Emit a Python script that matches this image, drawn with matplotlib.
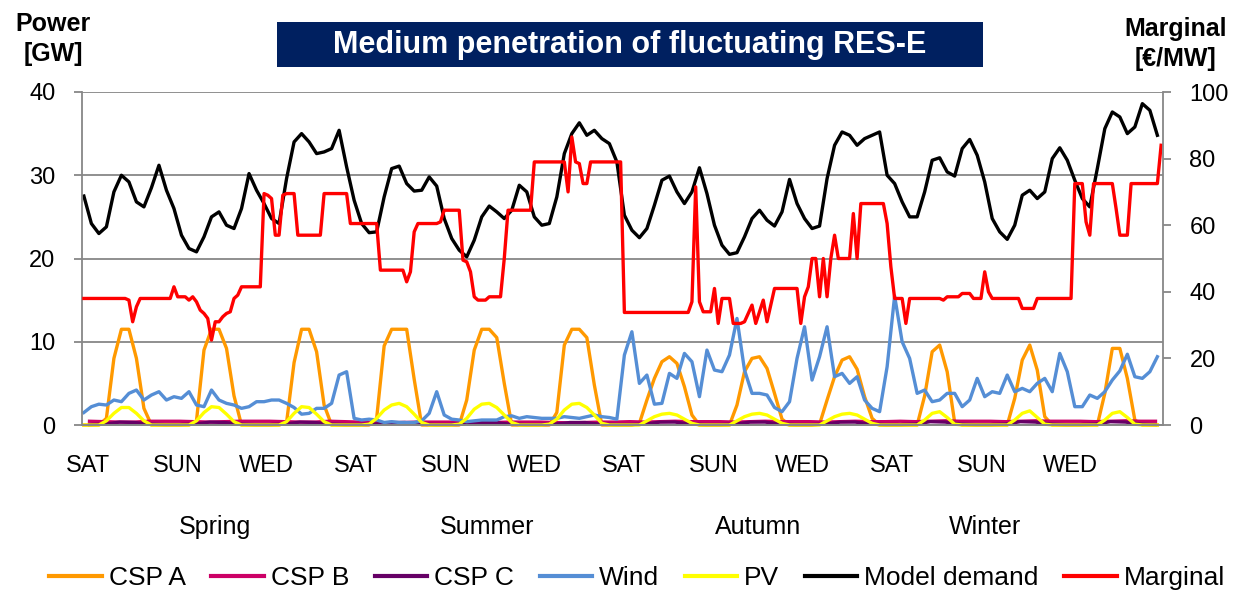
import matplotlib.pyplot as plt
from matplotlib.lines import Line2D
from matplotlib.patches import Rectangle

plt.rcParams['font.family'] = ['Liberation Sans', 'DejaVu Sans']

day_names = ['SAT', 'SUN', 'WED'] * 4
seasons = ['Spring', 'Summer', 'Autumn', 'Winter']

# --- 2-hourly values, 12 per day, 12 days (GW) ---
demand = [
    27.5, 24.2, 23.0, 23.8, 28.0, 30.0, 29.2, 26.8, 26.2, 28.5, 31.2, 28.2,
    26.0, 22.8, 21.2, 20.8, 22.6, 25.0, 25.6, 24.0, 23.6, 26.0, 30.2, 28.2,
    26.6, 24.8, 24.2, 29.6, 34.0, 35.0, 34.0, 32.6, 32.8, 33.2, 35.4, 31.0,
    27.0, 24.2, 23.1, 23.2, 27.4, 30.8, 31.1, 29.0, 28.1, 28.2, 29.8, 28.7,
    24.8, 22.4, 21.0, 20.2, 22.2, 25.0, 26.3, 25.6, 24.8, 25.8, 28.8, 28.0,
    25.0, 24.0, 24.2, 27.4, 32.6, 35.0, 36.3, 34.8, 35.4, 34.4, 33.8, 31.6,
    25.2, 23.4, 22.5, 23.6, 26.4, 29.4, 29.9, 28.0, 26.6, 28.0, 30.9, 27.8,
    24.0, 21.6, 20.5, 20.7, 22.6, 24.8, 25.8, 24.6, 23.9, 25.6, 29.5, 26.6,
    24.8, 23.6, 23.9, 29.6, 33.6, 35.2, 34.8, 33.6, 34.4, 34.8, 35.2, 30.0,
    29.0, 26.8, 25.0, 25.0, 28.0, 31.8, 32.1, 30.4, 29.9, 33.2, 34.3, 32.4,
    29.2, 24.8, 23.2, 22.3, 24.0, 27.6, 28.2, 27.2, 28.0, 32.0, 33.3, 31.8,
    29.4, 27.2, 26.2, 30.8, 35.6, 37.6, 37.0, 35.0, 35.8, 38.6, 37.8, 34.8,
]

wind = [
    1.5, 2.2, 2.5, 2.4, 3.0, 2.8, 3.8, 4.2, 3.0, 3.6, 4.0, 3.0,
    3.4, 3.2, 4.0, 2.4, 2.2, 4.2, 3.0, 2.6, 2.4, 2.0, 2.2, 2.8,
    2.8, 3.0, 3.0, 2.6, 2.1, 1.3, 1.4, 2.0, 2.0, 2.6, 6.0, 6.4,
    0.8, 0.6, 0.7, 0.6, 0.3, 0.4, 0.3, 0.3, 0.3, 0.5, 1.4, 4.0,
    1.2, 0.7, 0.6, 0.4, 0.5, 0.6, 0.6, 0.6, 1.0, 1.1, 0.8, 1.0,
    0.9, 0.8, 0.8, 0.8, 1.0, 0.9, 0.8, 1.0, 1.2, 1.0, 0.9, 0.7,
    8.4, 11.2, 5.0, 6.0, 2.5, 2.6, 6.2, 5.6, 8.6, 7.6, 3.4, 9.0,
    6.6, 6.4, 8.4, 12.8, 6.6, 3.8, 3.8, 3.6, 2.1, 1.6, 2.8, 8.0,
    11.8, 5.4, 8.2, 11.8, 5.8, 6.2, 5.0, 5.8, 3.0, 2.0, 1.6, 7.0,
    15.5, 10.0, 8.0, 3.8, 4.2, 2.8, 3.0, 3.8, 3.8, 2.2, 3.0, 5.6,
    3.4, 4.0, 3.8, 6.0, 4.0, 4.4, 4.0, 5.0, 5.6, 4.0, 8.6, 6.4,
    2.2, 2.2, 3.6, 3.2, 4.0, 5.4, 6.5, 8.5, 5.8, 5.6, 6.4, 8.2,
]

csp_a = [
    0, 0, 0, 0.8, 8.0, 11.5, 11.5, 8.0, 2.0, 0, 0, 0,
    0, 0, 0, 0.5, 9.0, 11.5, 11.5, 9.2, 3.5, 0, 0, 0,
    0, 0, 0, 0.3, 7.5, 11.5, 11.5, 8.8, 2.4, 0, 0, 0,
    0, 0, 0, 0.8, 9.5, 11.5, 11.5, 11.5, 5.5, 0, 0, 0,
    0, 0, 0, 3.0, 9.0, 11.5, 11.5, 10.5, 5.0, 0, 0, 0,
    0, 0, 0, 1.5, 9.6, 11.5, 11.5, 10.5, 4.8, 0, 0, 0,
    0, 0, 0.2, 3.0, 5.6, 7.6, 8.2, 7.4, 4.6, 1.2, 0, 0,
    0, 0, 0, 2.4, 6.4, 8.0, 8.2, 6.8, 3.8, 0.7, 0, 0,
    0, 0, 0.1, 3.0, 5.8, 7.8, 8.2, 6.7, 3.4, 0.8, 0, 0,
    0, 0, 0, 0, 3.5, 8.8, 9.6, 6.4, 0.3, 0, 0, 0,
    0, 0, 0, 0, 3.2, 7.8, 9.6, 6.6, 1.0, 0, 0, 0,
    0, 0, 0, 0, 3.8, 9.2, 9.2, 5.6, 0.6, 0, 0, 0,
]

pv = [
    0, 0, 0, 0.5, 1.4, 2.1, 2.1, 1.4, 0.5, 0, 0, 0,
    0, 0, 0, 0.5, 1.5, 2.2, 2.1, 1.3, 0.4, 0, 0, 0,
    0, 0, 0, 0.4, 1.4, 2.2, 2.1, 1.3, 0.4, 0, 0, 0,
    0, 0, 0.1, 0.8, 1.8, 2.4, 2.6, 2.2, 1.3, 0.3, 0, 0,
    0, 0, 0.1, 0.8, 1.9, 2.5, 2.6, 2.1, 1.2, 0.3, 0, 0,
    0, 0, 0.1, 0.7, 1.8, 2.5, 2.6, 2.1, 1.2, 0.2, 0, 0,
    0, 0, 0, 0.5, 1.0, 1.3, 1.4, 1.2, 0.7, 0.2, 0, 0,
    0, 0, 0, 0.5, 1.0, 1.3, 1.4, 1.2, 0.7, 0.2, 0, 0,
    0, 0, 0, 0.5, 1.0, 1.3, 1.4, 1.2, 0.7, 0.2, 0, 0,
    0, 0, 0, 0, 0.6, 1.4, 1.6, 0.9, 0.1, 0, 0, 0,
    0, 0, 0, 0, 0.6, 1.4, 1.7, 0.9, 0.1, 0, 0, 0,
    0, 0, 0, 0, 0.6, 1.4, 1.6, 0.9, 0.1, 0, 0, 0,
]

# --- 4-hourly values, 6 per day (GW) ---
csp_b = [
    0.45, 0.4, 0.35, 0.35, 0.45, 0.45, 0.45, 0.4, 0.35, 0.4, 0.45, 0.45,
    0.45, 0.4, 0.35, 0.35, 0.45, 0.4, 0.35, 0.3, 0.25, 0.3, 0.35, 0.35,
    0.35, 0.3, 0.25, 0.3, 0.35, 0.35, 0.35, 0.3, 0.25, 0.3, 0.35, 0.35,
    0.4, 0.35, 0.4, 0.45, 0.4, 0.4, 0.4, 0.35, 0.4, 0.45, 0.4, 0.4,
    0.4, 0.35, 0.4, 0.45, 0.4, 0.4, 0.45, 0.4, 0.45, 0.5, 0.45, 0.45,
    0.45, 0.4, 0.45, 0.5, 0.45, 0.45, 0.45, 0.4, 0.45, 0.5, 0.45, 0.45,
]
csp_c = [
    0.05, 0.1, 0.35, 0.3, 0.1, 0.05, 0.05, 0.1, 0.35, 0.3, 0.1, 0.05,
    0.05, 0.1, 0.35, 0.3, 0.1, 0.05, 0.05, 0.1, 0.3, 0.3, 0.1, 0.05,
    0.05, 0.1, 0.3, 0.3, 0.1, 0.05, 0.05, 0.1, 0.3, 0.3, 0.1, 0.05,
    0.05, 0.1, 0.35, 0.35, 0.1, 0.05, 0.05, 0.1, 0.35, 0.35, 0.1, 0.05,
    0.05, 0.1, 0.35, 0.35, 0.1, 0.05, 0.05, 0.1, 0.4, 0.35, 0.1, 0.05,
    0.05, 0.1, 0.4, 0.35, 0.1, 0.05, 0.05, 0.1, 0.4, 0.35, 0.1, 0.05,
]

# --- hourly marginal price (EUR/MW), 24 per day ---
marginal = [
    38, 38, 38, 38, 38, 38, 38, 38, 38, 38, 38, 38, 37.5, 31, 35.5, 38, 38, 38, 38, 38, 38, 38, 38, 38,
    41.5, 38.5, 38.5, 38.5, 37.5, 38.5, 37, 34.5, 33.5, 32, 25.5, 31, 31, 32.5, 33.5, 34, 38, 39, 41.5, 41.5, 41.5, 41.5, 41.5, 41.5,
    69.5, 69, 68, 57, 57, 69, 69.5, 69.5, 69.5, 57, 57, 57, 57, 57, 57, 57, 69.5, 69.5, 69.5, 69.5, 69.5, 69.5, 69.5, 60.5,
    60.5, 60.5, 60.5, 60.5, 60.5, 60.5, 60.5, 46.5, 46.5, 46.5, 46.5, 46.5, 46.5, 46.5, 43, 46, 58, 60.5, 60.5, 60.5, 60.5, 60.5, 60.5, 61,
    64.5, 64.5, 64.5, 64.5, 64.5, 49.5, 49, 46, 38.5, 37.5, 37.5, 37.5, 38.5, 38.5, 38.5, 38.5, 50, 64.5, 64.5, 64.5, 64.5, 64.5, 64.5, 64.5,
    79, 79, 79, 79, 79, 79, 79, 79, 79, 70, 86.5, 79, 78.5, 72.5, 72.5, 79, 79, 79, 79, 79, 79, 79, 79, 79,
    33.8, 33.8, 33.8, 33.8, 33.8, 33.8, 33.8, 33.8, 33.8, 33.8, 33.8, 33.8, 33.8, 33.8, 33.8, 33.8, 33.8, 33.8, 37, 71.5, 37, 34, 34, 34,
    41, 30.5, 38, 38, 38, 30.5, 30.5, 30.5, 31, 33.5, 36, 30.5, 34, 37.5, 31, 36, 41, 41, 41, 41, 41, 41, 41, 30.5,
    38.5, 41.5, 50, 50, 38.5, 50, 38.5, 50, 57, 50, 50, 50, 50, 63.5, 50, 66.5, 66.5, 66.5, 66.5, 66.5, 66.5, 66.5, 60.5, 47.5,
    38, 38, 38, 30.5, 38, 38, 38, 38, 38, 38, 38, 38, 38, 37.5, 38.5, 38.5, 38.5, 38.5, 39.5, 39.5, 39.5, 38, 38, 38,
    46, 40, 38, 38, 38, 38, 38, 38, 38, 38, 35, 35, 35, 35, 38, 38, 38, 38, 38, 38, 38, 38, 38, 38,
    72.5, 72.5, 72.5, 61, 57, 72.5, 72.5, 72.5, 72.5, 72.5, 72.5, 65, 57, 57, 57, 72.5, 72.5, 72.5, 72.5, 72.5, 72.5, 72.5, 72.5, 84,
]

hours2 = [2 * i + 0.5 for i in range(len(demand))]
hours4 = [4 * i + 2 for i in range(len(csp_b))]
hours1 = [i + 0.5 for i in range(len(marginal))]

colors = {
    'CSP A': '#FF9900', 'CSP B': '#CC0066', 'CSP C': '#660066',
    'Wind': '#558ED5', 'PV': '#FFFF00', 'Model demand': '#000000',
    'Marginal': '#FF0000',
}
grey = '#878787'
lw = 2.4

W, H = 1248, 593
fig = plt.figure(figsize=(W / 100, H / 100), dpi=100)
ax = fig.add_axes([82 / W, 1 - 425 / H, 1081 / W, 333 / H])

ax.plot(hours2, csp_a, color=colors['CSP A'], lw=lw, clip_on=False)
ax.plot(hours4, csp_b, color=colors['CSP B'], lw=lw, clip_on=False)
ax.plot(hours4, csp_c, color=colors['CSP C'], lw=lw, clip_on=False)
ax.plot(hours2, wind, color=colors['Wind'], lw=lw, clip_on=False)
ax.plot(hours2, pv, color=colors['PV'], lw=lw, clip_on=False)
ax.plot(hours2, demand, color=colors['Model demand'], lw=lw, clip_on=False)

ax2 = ax.twinx()
ax2.plot(hours1, marginal, color=colors['Marginal'], lw=lw, clip_on=False)

ax.set_xlim(0, 288)
ax.set_ylim(0, 40)
ax2.set_ylim(0, 100)
ax.set_yticks([0, 10, 20, 30, 40])
ax2.set_yticks([0, 20, 40, 60, 80, 100])
ax.set_xticks([])
ax.grid(axis='y', color=grey, lw=1.3)
ax.set_axisbelow(True)

for a in (ax, ax2):
    a.spines['top'].set_visible(False)
    for s in ('left', 'right', 'bottom'):
        a.spines[s].set_color(grey)
        a.spines[s].set_linewidth(1.3)
ax.spines['right'].set_visible(False)
ax2.spines['left'].set_visible(False)
ax.tick_params(axis='y', direction='out', length=6, width=1.3, color=grey,
               labelsize=17, pad=13)
ax2.tick_params(axis='y', direction='out', length=6, width=1.3, color=grey,
                labelsize=17, pad=13)

# day and season labels under the axis
for d, name in enumerate(day_names):
    ax.text(1.6 + d * 23.8, -0.123, name, transform=ax.get_xaxis_transform(),
            ha='center', va='center', fontsize=17)
for xpos, name in zip([35.5, 108, 180, 240.5], seasons):
    ax.text(xpos, -0.306, name, transform=ax.get_xaxis_transform(),
            ha='center', va='center', fontsize=18)

# title box
fig.add_artist(Rectangle((277 / W, 1 - 67 / H), 706 / W, 45 / H,
                         transform=fig.transFigure, facecolor='#002060',
                         edgecolor='none'))
fig.text(630 / W, 1 - 45.5 / H, 'Medium penetration of fluctuating RES-E',
         color='white', fontweight='bold', fontsize=22, ha='center', va='center')
fig.text(53 / W, 1 - 39 / H, 'Power\n[GW]', fontweight='bold', fontsize=18,
         ha='center', va='center', linespacing=1.35)
fig.text(1176 / W, 1 - 44 / H, 'Marginal\n[€/MW]', fontweight='bold', fontsize=18,
         ha='center', va='center', linespacing=1.35)

names = ['CSP A', 'CSP B', 'CSP C', 'Wind', 'PV', 'Model demand', 'Marginal']
handles = [Line2D([], [], color=colors[n], lw=3) for n in names]
fig.legend(handles, names, loc='center', bbox_to_anchor=(637 / W, 1 - 578 / H),
           ncol=7, frameon=False, fontsize=19, handlelength=2.0,
           handletextpad=0.25, columnspacing=0.97, borderaxespad=0,
           borderpad=0)

fig.savefig('out.png', dpi=100)
